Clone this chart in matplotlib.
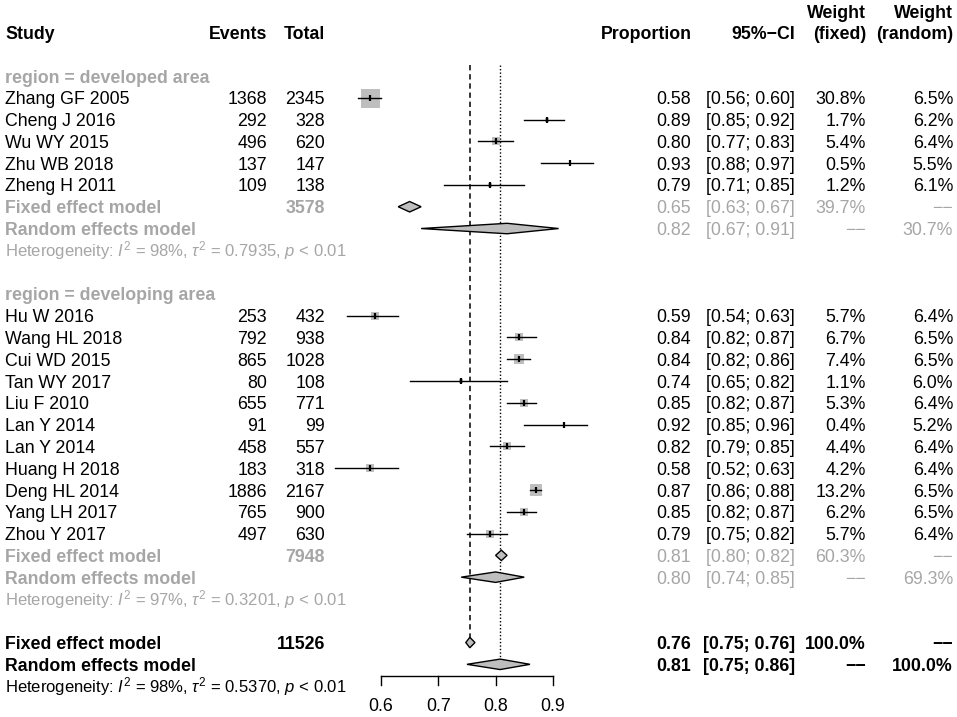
import numpy as np
import matplotlib.pyplot as plt
from matplotlib.patches import Polygon

plt.rcParams['font.family'] = ['Liberation Sans', 'DejaVu Sans']
plt.rcParams['mathtext.fontset'] = 'custom'
plt.rcParams['mathtext.rm'] = 'Liberation Sans'
plt.rcParams['mathtext.it'] = 'Liberation Sans:italic'
plt.rcParams['mathtext.bf'] = 'Liberation Sans:bold'

# ---- data ----
dev_names = ["Zhang GF 2005", "Cheng J 2016", "Wu WY 2015", "Zhu WB 2018", "Zheng H 2011"]
dev_events = [1368, 292, 496, 137, 109]
dev_total = [2345, 328, 620, 147, 138]
dev_prop = [0.58, 0.89, 0.80, 0.93, 0.79]
dev_lo = [0.56, 0.85, 0.77, 0.88, 0.71]
dev_hi = [0.60, 0.92, 0.83, 0.97, 0.85]
dev_wf = [30.8, 1.7, 5.4, 0.5, 1.2]
dev_wr = [6.5, 6.2, 6.4, 5.5, 6.1]

dvg_names = ["Hu W 2016", "Wang HL 2018", "Cui WD 2015", "Tan WY 2017", "Liu F 2010",
             "Lan Y 2014", "Lan Y 2014", "Huang H 2018", "Deng HL 2014", "Yang LH 2017",
             "Zhou Y 2017"]
dvg_events = [253, 792, 865, 80, 655, 91, 458, 183, 1886, 765, 497]
dvg_total = [432, 938, 1028, 108, 771, 99, 557, 318, 2167, 900, 630]
dvg_prop = [0.59, 0.84, 0.84, 0.74, 0.85, 0.92, 0.82, 0.58, 0.87, 0.85, 0.79]
dvg_lo = [0.54, 0.82, 0.82, 0.65, 0.82, 0.85, 0.79, 0.52, 0.86, 0.82, 0.75]
dvg_hi = [0.63, 0.87, 0.86, 0.82, 0.87, 0.96, 0.85, 0.63, 0.88, 0.87, 0.82]
dvg_wf = [5.7, 6.7, 7.4, 1.1, 5.3, 0.4, 4.4, 4.2, 13.2, 6.2, 5.7]
dvg_wr = [6.4, 6.5, 6.5, 6.0, 6.4, 5.2, 6.4, 6.4, 6.5, 6.5, 6.4]

# subgroup / overall summaries: [fixed, random]
dev_sum_total = 3578
dev_sum_est = [0.65, 0.82]
dev_sum_lo = [0.63, 0.67]
dev_sum_hi = [0.67, 0.91]
dev_sum_w = ["39.7%", "30.7%"]
dev_het = ("98%", "0.7935", "0.01")

dvg_sum_total = 7948
dvg_sum_est = [0.81, 0.80]
dvg_sum_lo = [0.80, 0.74]
dvg_sum_hi = [0.82, 0.85]
dvg_sum_w = ["60.3%", "69.3%"]
dvg_het = ("97%", "0.3201", "0.01")

all_total = 11526
all_est = [0.755, 0.808]
all_lo = [0.748, 0.75]
all_hi = [0.764, 0.86]
all_w = ["100.0%", "100.0%"]
all_het = ("98%", "0.5370", "0.01")

ticks = [0.6, 0.7, 0.8, 0.9]

GRAY = '#a6a6a6'
BOX = '#bebebe'
FS = 12.8
HFS = 12
DASH = "\u2212\u2212"

W, H = 957, 717
fig = plt.figure(figsize=(W / 100, H / 100), dpi=100)
ax = fig.add_axes([0, 0, 1, 1])
# pixel 381 -> 0.6, 573 px per unit; row r at pixel 76 + 21.79 r
PX0, PPU = 381.0, 573.0
ROW0, ROWH = 76.0, 21.79
ax.set_xlim(0.6 - PX0 / PPU, 0.6 + (W - PX0) / PPU)
ax.set_ylim((H - ROW0) / ROWH, -ROW0 / ROWH)
ax.axis('off')

tr = ax.get_yaxis_transform()   # x in axes fraction, y in rows


def put(xpx, row, s, ha='right', color='black', weight='normal', size=FS):
    ax.text(xpx / W, row + 0.3, s, transform=tr, ha=ha, va='baseline',
            color=color, fontweight=weight, fontsize=size)


def pct(v):
    return f"{v:.1f}%"


# headers
put(5, -2, "Study", ha='left', weight='bold')
put(267, -2, "Events", weight='bold')
put(325, -2, "Total", weight='bold')
put(692, -2, "Proportion", weight='bold')
put(795, -2, "95%\u2212CI", weight='bold')
put(866, -2.95, "Weight", weight='bold')
put(866, -2, "(fixed)", weight='bold')
put(953, -2.95, "Weight", weight='bold')
put(953, -2, "(random)", weight='bold')

BOX_PX = 19.0 / np.sqrt(30.8)


def study_rows(start, names, ev, tot, p, lo, hi, wf, wr):
    for i in range(len(names)):
        r = start + i
        put(5, r, names[i], ha='left')
        put(267, r, str(ev[i]))
        put(325, r, str(tot[i]))
        put(691, r, f"{p[i]:.2f}")
        put(795, r, f"[{lo[i]:.2f}; {hi[i]:.2f}]")
        put(866, r, pct(wf[i]))
        put(953, r, pct(wr[i]))
        side = BOX_PX * np.sqrt(wf[i]) * 0.72
        ax.scatter([p[i]], [r], marker='s', s=side ** 2, color=BOX, lw=0, zorder=2)
        ax.plot([lo[i], hi[i]], [r, r], color='black', lw=1.0, zorder=3)
        ax.plot([p[i]], [r], marker='|', ms=4.5, mew=1.6, color='black', zorder=4)


def diamond(r, est, lo, hi, h=0.24):
    ax.add_patch(Polygon([(lo, r), (est, r - h), (hi, r), (est, r + h)], closed=True,
                         facecolor=BOX, edgecolor='black', lw=1.0, zorder=5))


def het_text(r, het, color):
    s = (r"Heterogeneity: $I^2$ = " + het[0] + r", $\tau^2$ = " + het[1]
         + r", $p$ < " + het[2])
    put(5, r, s, ha='left', color=color, size=HFS)


def summary_rows(start, total, est, lo, hi, w, het, color, bold_nums):
    nw = 'bold' if bold_nums else 'normal'
    labels = ["Fixed effect model", "Random effects model"]
    for k in range(2):
        r = start + k
        put(5, r, labels[k], ha='left', color=color, weight='bold')
        put(691, r, f"{est[k]:.2f}", color=color, weight=nw)
        put(795, r, f"[{lo[k]:.2f}; {hi[k]:.2f}]", color=color, weight=nw)
        put(866, r, w[0] if k == 0 else DASH, color=color, weight=nw)
        put(953, r, DASH if k == 0 else w[1], color=color, weight=nw)
        diamond(r, est[k], lo[k], hi[k])
    if total is not None:
        put(325, start, str(total), color=color, weight='bold')
    het_text(start + 2, het, color)


# developed area
put(5, 0, "region = developed area", ha='left', color=GRAY, weight='bold')
study_rows(1, dev_names, dev_events, dev_total, dev_prop, dev_lo, dev_hi, dev_wf, dev_wr)
summary_rows(6, dev_sum_total, dev_sum_est, dev_sum_lo, dev_sum_hi, dev_sum_w, dev_het, GRAY, False)

# developing area
put(5, 10, "region = developing area", ha='left', color=GRAY, weight='bold')
study_rows(11, dvg_names, dvg_events, dvg_total, dvg_prop, dvg_lo, dvg_hi, dvg_wf, dvg_wr)
summary_rows(22, dvg_sum_total, dvg_sum_est, dvg_sum_lo, dvg_sum_hi, dvg_sum_w, dvg_het, GRAY, False)

# overall
summary_rows(26, all_total, all_est, all_lo, all_hi, all_w, all_het, 'black', True)

# reference lines for the overall estimates
ax.plot([all_est[0]] * 2, [-0.5, 26], color='black', lw=1.1, ls=(0, (3.5, 2.5)), zorder=1)
ax.plot([all_est[1]] * 2, [-0.5, 27], color='black', lw=1.0, ls=(0, (1, 1.5)), zorder=1)

# x axis
AX_ROW = 27.55
ax.plot([ticks[0], ticks[-1]], [AX_ROW, AX_ROW], color='black', lw=1.0)
for t in ticks:
    ax.plot([t, t], [AX_ROW, AX_ROW + 0.4], color='black', lw=1.0)
    ax.text(t, 29.15, f"{t:.1f}", ha='center', va='baseline', fontsize=FS)

fig.savefig("out.png", dpi=100)
